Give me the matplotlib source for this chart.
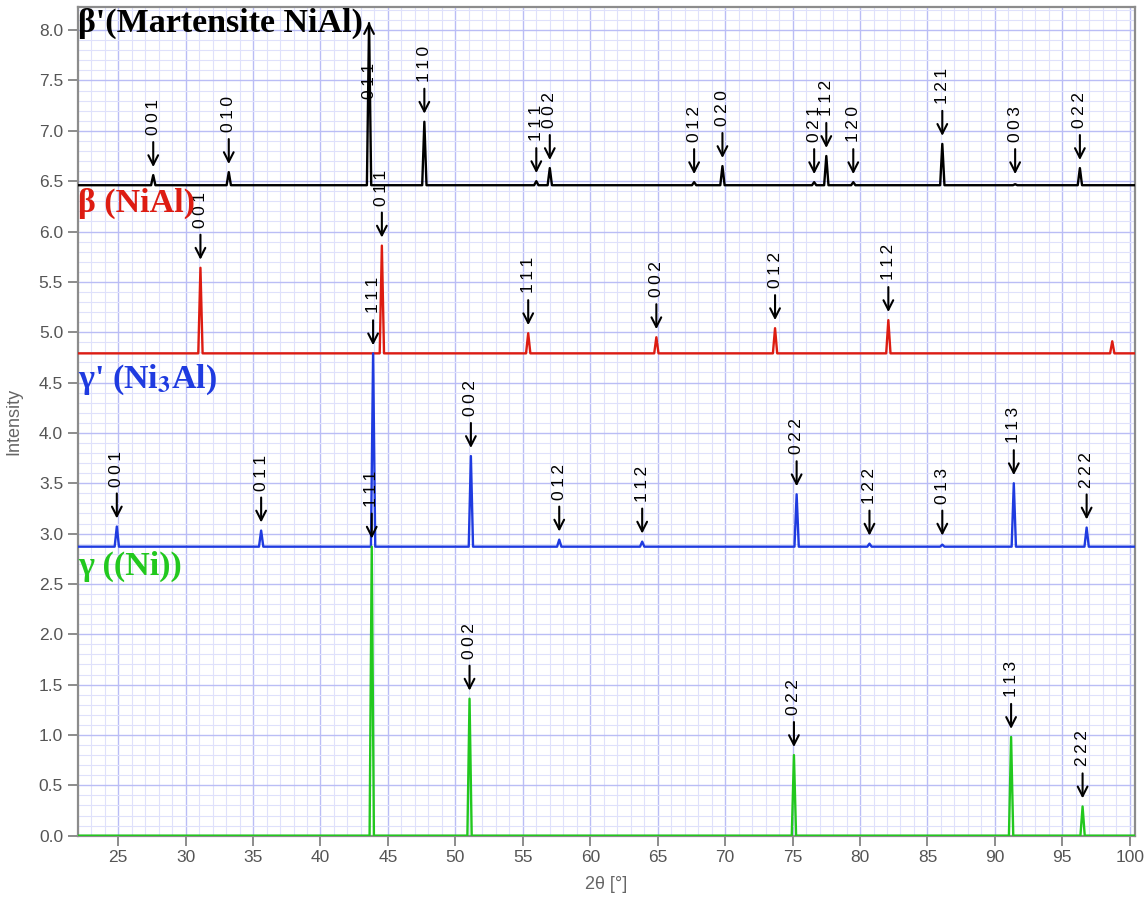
import numpy as np
import matplotlib.pyplot as plt
from matplotlib.ticker import MultipleLocator

# peak positions (2theta), peak tops and hkl labels for each phase
mart_base = 6.46
mart_pos = [27.6, 33.2, 43.6, 47.7, 56.0, 57.0, 67.7, 69.8, 76.6, 77.5, 79.5, 86.1, 91.5, 96.3]
mart_top = [6.56, 6.59, 8.07, 7.09, 6.50, 6.63, 6.49, 6.65, 6.49, 6.75, 6.49, 6.87, 6.47, 6.63]
mart_hkl = ['001', '010', '011', '110', '111', '002', '012', '020', '021', '112', '120', '121', '003', '022']

nial_base = 4.79
nial_pos = [31.1, 44.55, 55.4, 64.9, 73.7, 82.1, 98.7]
nial_top = [5.64, 5.86, 4.99, 4.95, 5.04, 5.12, 4.91]
nial_hkl = ['001', '011', '111', '002', '012', '112', None]

ni3al_base = 2.87
ni3al_pos = [24.9, 35.6, 43.9, 51.15, 57.7, 63.85, 75.3, 80.7, 86.1, 91.4, 96.8]
ni3al_top = [3.07, 3.03, 4.79, 3.77, 2.94, 2.92, 3.39, 2.90, 2.89, 3.50, 3.06]
ni3al_hkl = ['001', '011', '111', '002', '012', '112', '022', '122', '013', '113', '222']

ni_base = 0.0
ni_pos = [43.8, 51.05, 75.1, 91.2, 96.5]
ni_top = [2.87, 1.36, 0.80, 0.98, 0.29]
ni_hkl = ['111', '002', '022', '113', '222']

xmin, xmax = 22.0, 100.42
ymin, ymax = 0.0, 8.23

plt.rcParams['font.family'] = ['Liberation Sans', 'DejaVu Sans']
plt.rcParams['mathtext.fontset'] = 'stix'

fig = plt.figure(figsize=(11.46, 8.97), dpi=100)
ax = fig.add_axes([0.0678, 0.0684, 0.923, 0.9238])


def pattern(base, pos, top, w=0.16):
    xs, ys = [xmin], [base]
    for p, t in zip(pos, top):
        xs += [p - w, p, p + w]
        ys += [base, t, base]
    xs.append(xmax)
    ys.append(base)
    return np.array(xs), np.array(ys)


ARROW = '->,head_length=0.55,head_width=0.28'


def hkl_labels(pos, top, base, hkl):
    for p, t, lab in zip(pos, top, hkl):
        if lab is None:
            continue
        txt = '\u2009'.join(lab)
        tip = max(t, base + 0.03) + 0.08
        if tip > 8.1:
            # peak runs off the top: label sits on the peak, arrow points up
            ax.annotate(txt, xy=(p, t + 0.01), xytext=(p, 7.32), rotation=90,
                        ha='center', va='bottom', fontsize=12.5, color='black',
                        arrowprops=dict(arrowstyle=ARROW, lw=1.5, color='black',
                                        shrinkA=0, shrinkB=0),
                        zorder=5, annotation_clip=False)
            continue
        ax.annotate(txt, xy=(p, tip), xytext=(0, 23), textcoords='offset points',
                    rotation=90, ha='center', va='bottom', fontsize=12.5, color='black',
                    arrowprops=dict(arrowstyle=ARROW, lw=1.5, color='black',
                                    shrinkA=3, shrinkB=0),
                    zorder=5)


phases = [
    (mart_base, mart_pos, mart_top, mart_hkl, 'black'),
    (nial_base, nial_pos, nial_top, nial_hkl, '#dd1c12'),
    (ni3al_base, ni3al_pos, ni3al_top, ni3al_hkl, '#1f3be0'),
    (ni_base, ni_pos, ni_top, ni_hkl, '#22c81e'),
]
for base, pos, top, hkl, col in phases:
    x, y = pattern(base, pos, top)
    ax.plot(x, y, color=col, lw=1.7, zorder=3)
    hkl_labels(pos, top, base, hkl)

# phase names
title_font = dict(family=['Liberation Serif', 'DejaVu Serif'], fontweight='bold',
                  fontsize=24.5, va='top', ha='left', zorder=6)
ax.text(22.05, 8.22, "β'(Martensite NiAl)", color='black', **title_font)
ax.text(22.05, 6.43, "β (NiAl)", color='#dd1c12', **title_font)
ax.text(22.05, 4.70, "γ' (Ni$_\\mathbf{3}$Al)", color='#1f3be0', **title_font)
ax.text(22.05, 2.83, "γ ((Ni))", color='#22c81e', **title_font)

ax.set_xlim(xmin, xmax)
ax.set_ylim(ymin, ymax)
ax.xaxis.set_minor_locator(MultipleLocator(1))
ax.yaxis.set_major_locator(MultipleLocator(0.5))
ax.yaxis.set_minor_locator(MultipleLocator(0.1))
ax.set_xticks(np.arange(25, 101, 5))
ax.yaxis.set_major_formatter(plt.FormatStrFormatter('%.1f'))

ax.grid(which='major', color='#babdf5', lw=1.0, zorder=0)
ax.grid(which='minor', color='#dfe1fb', lw=0.8, zorder=0)
ax.set_axisbelow(True)

for s in ax.spines.values():
    s.set_color('#8c8c8c')
    s.set_linewidth(1.6)
ax.tick_params(which='major', direction='out', length=7, width=1.4, color='#8c8c8c',
               labelsize=12.5, labelcolor='#555555')
ax.tick_params(which='minor', length=0)

ax.set_xlabel('2θ [°]', fontsize=13, color='#666666', labelpad=8)
ax.set_ylabel('Intensity', fontsize=13, color='#666666', labelpad=12)

fig.savefig('out.png', dpi=100)
